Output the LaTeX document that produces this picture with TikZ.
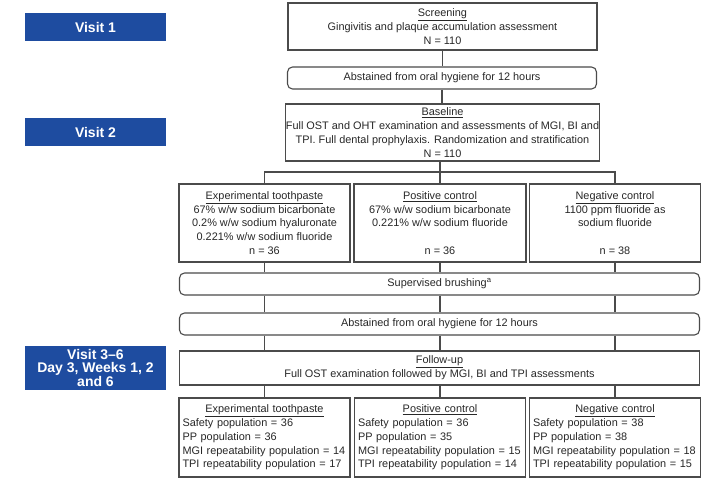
\documentclass[tikz,border=0pt]{standalone}
\usepackage{fontspec}
\setmainfont{Liberation Sans}
\definecolor{visitblue}{RGB}{30,76,160}
\definecolor{linegray}{RGB}{75,75,75}
\definecolor{txtgray}{RGB}{40,40,40}
\begin{document}
\begin{tikzpicture}[x=1pt,y=-1pt,
  box/.style={draw=linegray, line width=1.1pt, rectangle, inner sep=0pt, align=center,
    font=\fontsize{10.9}{13.8}\selectfont, text=txtgray},
  rbox/.style={box, rounded corners=5pt},
  lbox/.style={box, align=left, inner xsep=3.5pt, text width=164pt, minimum height=79pt},
  visit/.style={fill=visitblue, text=white, font=\bfseries\fontsize{14}{12.5}\selectfont,
    align=center, inner sep=0pt, minimum width=141pt},
  conn/.style={draw=linegray, line width=1.1pt}]
\useasboundingbox[fill=white] (0,0) rectangle (721,486);

% visit labels
\node[visit, minimum height=28pt] (v1) at (95.5,27) {Visit 1};
\node[visit, minimum height=28pt] (v2) at (95.5,132) {Visit 2};
\node[visit, minimum height=44pt] (v3) at (95.5,368) {Visit 3--6\\Day 3, Weeks 1, 2\\and 6};

% top chain
\node[box, minimum width=309pt, minimum height=47pt] (scr) at (442.5,26.5)
  {\underline{Screening}\\Gingivitis and plaque accumulation assessment\\N = 110};
\node[rbox, minimum width=309pt, minimum height=22pt] (abs1) at (442,78)
  {Abstained from oral hygiene for 12 hours};
\node[box, minimum width=309pt, minimum height=57pt] (base) at (442.5,132.5)
  {\underline{Baseline}\\Full OST and OHT examination and assessments of MGI, BI and\\TPI. Full dental prophylaxis. Randomization and stratification\\N = 110};

% groups
\node[box, minimum width=171pt, minimum height=78pt] (exp) at (264.5,223)
  {\underline{Experimental toothpaste}\\67\% w/w sodium bicarbonate\\0.2\% w/w sodium hyaluronate\\0.221\% w/w sodium fluoride\\n = 36};
\node[box, minimum width=172pt, minimum height=78pt] (pos) at (440,223)
  {\underline{Positive control}\\67\% w/w sodium bicarbonate\\0.221\% w/w sodium fluoride\\[13.8pt]n = 36};
\node[box, minimum width=171pt, minimum height=78pt] (neg) at (615,223)
  {\underline{Negative control}\\1100 ppm fluoride as\\sodium fluoride\\[13.8pt]n = 38};

% full-width steps
\node[rbox, minimum width=520pt, minimum height=22pt] (sup) at (439.5,284)
  {Supervised brushing\textsuperscript{a}};
\node[rbox, minimum width=520pt, minimum height=22pt] (abs2) at (439.5,324)
  {Abstained from oral hygiene for 12 hours};
\node[box, minimum width=520pt, minimum height=34pt] (fol) at (439.5,368)
  {\underline{Follow-up}\\Full OST examination followed by MGI, BI and TPI assessments};

% outcome boxes
\node[lbox] (eb) at (264.5,437.5)
  {\makebox[\linewidth][c]{\underline{Experimental toothpaste}}\\Safety population = 36\\PP population = 36\\MGI repeatability population = 14\\TPI repeatability population = 17};
\node[lbox] (pb) at (440,437.5)
  {\makebox[\linewidth][c]{\underline{Positive control}}\\Safety population = 36\\PP population = 35\\MGI repeatability population = 15\\TPI repeatability population = 14};
\node[lbox] (nb) at (615,437.5)
  {\makebox[\linewidth][c]{\underline{Negative control}}\\Safety population = 38\\PP population = 38\\MGI repeatability population = 18\\TPI repeatability population = 15};

% connectors
\draw[conn] (scr.south) -- (scr.south |- abs1.north);
\draw[conn] (abs1.south) -- (abs1.south |- base.north);
\coordinate (br) at (440,172);
\draw[conn] (pos.north) -- (pos.north |- base.south);
\draw[conn] (exp.north) |- (br) -| (neg.north);
\foreach \c in {exp,pos,neg}{
  \draw[conn] (\c.south) -- (\c.south |- sup.north);
  \draw[conn] (\c.south |- sup.south) -- (\c.south |- abs2.north);
  \draw[conn] (\c.south |- abs2.south) -- (\c.south |- fol.north);
}
\draw[conn] (eb.north |- fol.south) -- (eb.north);
\draw[conn] (pb.north |- fol.south) -- (pb.north);
\draw[conn] (nb.north |- fol.south) -- (nb.north);
\end{tikzpicture}
\end{document}
